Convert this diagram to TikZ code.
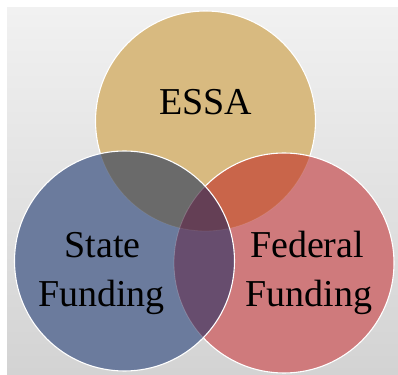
\documentclass[tikz,border=0pt]{standalone}
\usepackage{fontspec}
\setmainfont{Liberation Serif}
\definecolor{bgtop}{HTML}{F1F1F1}
\definecolor{bgbot}{HTML}{D3D3D3}
\definecolor{goldc}{HTML}{D8BA80}
\definecolor{bluec}{HTML}{6B7B9D}
\definecolor{redc}{HTML}{CF7A7C}
\definecolor{grayc}{HTML}{6A6A6A}
\definecolor{orangec}{HTML}{C9654A}
\definecolor{purplec}{HTML}{674D6E}
\definecolor{triplec}{HTML}{643F55}
\tikzset{
  rim/.style={draw=white, line width=1.1pt},
  faintrim/.style={draw=white, draw opacity=0.2, line width=0.8pt},
  lbl/.style={anchor=base, inner sep=0pt, font=\fontsize{38}{46}\selectfont, text=black}
}
\begin{document}
\begin{tikzpicture}[x=1pt,y=1pt]
\useasboundingbox (0,0) rectangle (398,374);
\fill[white] (0,0) rectangle (398,374);
\shade[top color=bgtop, bottom color=bgbot] (7,0) rectangle (398,366);
\coordinate (E) at (205.5,253);
\coordinate (S) at (124.5,113);
\coordinate (F) at (284,111);
\def\R{110}
% ESSA
\fill[goldc] (E) circle (\R);
\draw[rim] (E) circle (\R);
% Federal
\fill[redc] (F) circle (\R);
\begin{scope}
  \clip (F) circle (\R);
  \fill[orangec] (E) circle (\R);
  \draw[faintrim, draw opacity=0.1] (E) circle (\R);
\end{scope}
\draw[rim] (F) circle (\R);
% State
\fill[bluec] (S) circle (\R);
\begin{scope}
  \clip (S) circle (\R);
  \fill[grayc] (E) circle (\R);
  \fill[purplec] (F) circle (\R);
  \begin{scope}
    \clip (E) circle (\R);
    \fill[triplec] (F) circle (\R);
  \end{scope}
  \draw[faintrim, draw opacity=0.08] (E) circle (\R);
  \draw[faintrim] (F) circle (\R);
\end{scope}
\draw[rim] (S) circle (\R);
% labels
\node[lbl] (essa) at (205.5,259) {ESSA};
\node[lbl] (state1) at (102.5,116) {State};
\node[lbl] (state2) at (101.5,67) {Funding};
\node[lbl] (fed1) at (307,116) {Federal};
\node[lbl] (fed2) at (309,67) {Funding};
\end{tikzpicture}
\end{document}
